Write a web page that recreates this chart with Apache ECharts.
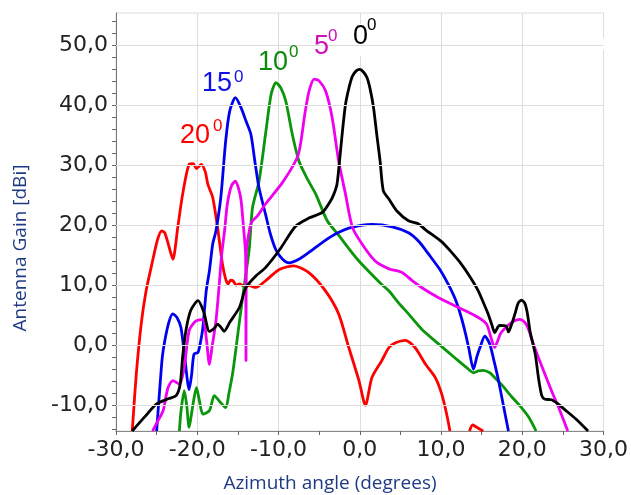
<!DOCTYPE html>
<html><head><meta charset="utf-8">
<script src="https://cdn.jsdelivr.net/npm/echarts@6/dist/echarts.min.js"></script>
<style>html,body{margin:0;padding:0;background:#fff}#c{width:631px;height:495px}</style>
</head><body><div id="c"></div>
<script>
// ---- data (azimuth degrees, gain dBi) ----
const curve0 = [[-28.0,-14.3],[-26.5,-12.0],[-25.0,-9.8],[-23.5,-8.9],[-22.6,-8.4],[-22.1,-6.5],[-21.8,-2.0],[-21.4,2.4],[-20.8,5.8],[-19.9,7.4],[-19.2,5.5],[-18.5,2.3],[-17.9,2.8],[-17.5,3.5],[-17.1,3.0],[-16.7,2.3],[-16.0,3.8],[-14.8,6.3],[-14.0,9.6],[-12.8,11.5],[-11.6,12.9],[-9.8,16.0],[-7.9,19.8],[-6.2,21.2],[-4.6,22.1],[-3.6,24.0],[-3.2,25.1],[-2.8,26.8],[-2.5,30.5],[-2.1,36.0],[-1.75,40.1],[-1.3,43.0],[-0.9,44.8],[-0.4,45.7],[0.0,45.9],[0.5,45.4],[0.9,44.5],[1.3,42.5],[1.7,39.5],[2.1,35.0],[2.5,30.7],[2.9,25.7],[3.6,24.3],[4.6,22.3],[6.0,20.7],[7.2,20.2],[8.1,19.2],[10.1,17.2],[11.2,15.6],[12.5,13.5],[13.6,11.3],[14.6,9.0],[15.3,6.8],[15.8,5.2],[16.3,3.2],[16.6,2.1],[17.0,3.0],[17.2,3.3],[18.0,3.2],[18.3,2.2],[18.7,3.5],[19.1,5.2],[19.5,7.0],[19.9,7.5],[20.3,7.0],[20.6,5.5],[21.0,2.0],[21.6,-1.5],[22.0,-5.5],[22.4,-8.4],[22.8,-9.0],[23.6,-9.1],[24.4,-9.8],[25.2,-10.7],[26.6,-12.3],[28.1,-14.3]];
const curve5 = [[-25.5,-14.3],[-24.8,-12.5],[-24.2,-10.9],[-23.6,-7.1],[-23.0,-5.9],[-22.2,-6.5],[-21.6,-3.7],[-21.0,2.4],[-20.2,4.0],[-19.3,4.3],[-18.9,1.3],[-18.5,-3.2],[-18.2,-0.5],[-17.7,4.0],[-17.3,10.0],[-17.0,15.0],[-16.6,19.5],[-16.3,23.5],[-15.8,26.5],[-15.3,27.3],[-14.9,26.0],[-14.6,24.0],[-14.3,19.5],[-14.05,15.0],[-14.0,-2.6],[-13.95,15.5],[-13.5,19.7],[-13.2,20.7],[-12.6,21.5],[-11.6,23.5],[-9.5,27.1],[-7.7,31.2],[-7.3,33.4],[-6.7,39.0],[-6.2,42.5],[-5.6,44.3],[-5.0,44.0],[-4.2,42.3],[-3.4,37.9],[-2.6,30.7],[-1.75,25.1],[-0.9,19.6],[0.3,16.8],[1.9,14.0],[3.6,12.7],[5.2,12.1],[6.4,10.8],[7.6,9.6],[9.7,7.9],[12.1,6.3],[14.6,4.6],[15.6,3.5],[16.1,1.5],[16.6,-0.4],[17.0,0.8],[17.4,2.1],[18.7,3.8],[19.7,4.3],[20.3,3.8],[20.7,2.9],[21.3,0.5],[22.0,-2.1],[23.6,-7.6],[24.6,-10.8],[25.6,-14.3]];
const curve10 = [[-22.2,-14.3],[-22.0,-11.0],[-21.6,-7.6],[-21.3,-10.0],[-21.0,-13.7],[-20.6,-10.5],[-20.1,-7.1],[-19.7,-9.5],[-19.3,-11.5],[-18.5,-10.9],[-17.9,-8.4],[-17.3,-9.3],[-16.5,-10.4],[-16.1,-8.0],[-15.6,-4.3],[-14.8,4.0],[-14.2,10.1],[-13.6,16.0],[-13.2,22.9],[-12.4,27.3],[-11.6,35.1],[-10.9,41.8],[-10.3,43.7],[-9.7,42.8],[-9.1,40.6],[-8.3,35.1],[-7.5,30.7],[-6.5,27.8],[-5.4,25.1],[-4.0,20.7],[-2.6,18.3],[-1.3,16.0],[-0.1,14.0],[1.3,12.0],[2.7,10.1],[3.6,9.0],[4.8,7.0],[6.0,5.2],[7.6,2.7],[9.7,0.2],[11.7,-2.1],[13.2,-3.8],[14.0,-4.6],[14.6,-4.3],[15.2,-4.2],[16.0,-4.6],[16.6,-5.4],[17.4,-6.5],[18.7,-8.6],[19.9,-10.4],[20.9,-12.2],[21.7,-14.3]];
const curve15 = [[-25.0,-14.3],[-24.6,-7.0],[-24.3,-2.0],[-24.0,0.7],[-23.5,3.8],[-23.0,5.2],[-22.5,4.6],[-22.0,2.9],[-21.5,-2.5],[-21.0,-7.4],[-20.7,-5.0],[-20.4,-1.5],[-19.9,-1.2],[-19.6,0.5],[-19.3,3.0],[-18.9,9.0],[-18.5,12.4],[-18.1,16.8],[-17.7,19.0],[-17.1,24.6],[-16.5,34.0],[-16.0,39.0],[-15.3,41.2],[-14.6,39.5],[-14.0,37.3],[-13.4,35.1],[-12.9,30.5],[-12.4,26.2],[-11.6,21.8],[-11.0,18.5],[-10.3,15.8],[-9.5,14.3],[-8.7,13.7],[-7.5,14.3],[-6.3,15.4],[-4.5,17.2],[-3.0,18.5],[-1.0,19.6],[1.5,20.1],[4.0,19.7],[6.0,18.7],[7.3,17.2],[8.5,15.1],[9.8,12.7],[10.9,10.1],[11.8,7.5],[12.5,4.6],[13.0,2.0],[13.4,-0.4],[14.0,-4.0],[14.4,-2.0],[14.8,-0.4],[15.4,1.5],[16.0,0.2],[16.5,-2.5],[17.0,-5.4],[17.6,-9.5],[18.3,-14.3]];
const curve20 = [[-28.0,-14.3],[-27.5,-4.8],[-26.9,3.5],[-26.3,9.0],[-25.5,14.0],[-24.9,17.5],[-24.4,19.0],[-24.0,18.7],[-23.5,16.5],[-23.0,14.3],[-22.4,19.6],[-21.8,25.1],[-21.0,30.1],[-20.5,30.2],[-20.1,29.4],[-19.5,30.1],[-19.0,28.8],[-18.7,26.8],[-18.1,24.6],[-17.5,19.6],[-16.9,13.5],[-16.5,11.0],[-16.2,10.2],[-15.9,10.8],[-15.6,10.7],[-15.2,10.0],[-14.8,10.2],[-14.2,9.8],[-13.6,9.9],[-12.8,9.6],[-11.6,10.7],[-9.9,12.6],[-8.1,13.2],[-6.3,12.1],[-4.2,9.0],[-2.6,5.2],[-1.35,-0.4],[-0.1,-5.9],[0.7,-10.0],[1.5,-5.4],[2.7,-2.6],[3.6,-0.4],[4.4,0.4],[5.6,0.8],[6.8,-0.4],[8.1,-3.2],[9.3,-5.4],[10.1,-8.2],[10.7,-11.5],[11.1,-14.3]];
const curve20b = [[13.5,-14.3],[13.9,-13.3],[14.3,-13.6],[14.8,-14.0],[15.2,-14.3]];

const yLabelValues = [-10, 0, 10, 20, 30, 40, 50];
const yTickValues = [-14,-12,-10,-8,-6,-4,-2,0,2,4,6,8,10,12,14,16,18,20,22,24,26,28,30,32,34,36,38,40,42,44,46,48,50,52,54];
const curveLabels = ['20', '15', '10', '5', '0'];

const fmt = v => v.toFixed(1).replace('.', ',');
const tickFont = {fontFamily: 'DejaVu Sans', fontSize: 22, color: '#222'};
const titleColor = '#1F3A84';

function lineSeries(name, data, color) {
  return {name, type: 'line', data, showSymbol: false, symbol: 'none', smooth: 0.25,
    lineStyle: {color, width: 2.8}, z: 3, silent: true};
}

const labelStyle = [
  // [text, left, centerY, color, supLeft, supCenterY]
  [curveLabels[0], 180, 136, '#FF0000', 213, 126],
  [curveLabels[1], 202, 84, '#1010E8', 234, 77],
  [curveLabels[2], 258, 62.5, '#0A8A0A', 289, 52],
  [curveLabels[3], 314, 46.5, '#D010B8', 328, 36],
  [curveLabels[4], 353, 36.5, '#000000', 367, 25]
];
const graphics = [
  {type: 'rect', shape: {x: 311, y: 24, width: 112, height: 32}, style: {fill: '#fff'}, z: 1},
  {type: 'rect', shape: {x: 590, y: 38, width: 14, height: 12}, style: {fill: '#fff'}, z: 1},
  {type: 'text', rotation: Math.PI / 2, x: 21, y: 248,
    style: {text: 'Antenna Gain [dBi]', fill: titleColor, fontFamily: 'Open Sans', fontSize: 19, align: 'center', verticalAlign: 'middle'}},
  {type: 'text', x: 330, y: 484,
    style: {text: 'Azimuth angle (degrees)', fill: titleColor, fontFamily: 'Open Sans', fontSize: 19, align: 'center', verticalAlign: 'middle'}}
];
labelStyle.forEach(l => {
  graphics.push({type: 'text', x: l[1], y: l[2], z: 10,
    style: {text: l[0], fill: l[3], fontFamily: 'Liberation Sans', fontSize: 27, align: 'left', verticalAlign: 'middle'}});
  graphics.push({type: 'text', x: l[4], y: l[5], z: 10,
    style: {text: '0', fill: l[3], fontFamily: 'Liberation Sans', fontSize: 17, align: 'left', verticalAlign: 'middle'}});
});

const chart = echarts.init(document.getElementById('c'), null, {renderer: 'canvas'});
chart.setOption({
  animation: false,
  backgroundColor: '#fff',
  grid: {left: 116, right: 25, top: 13, bottom: 64, show: true, borderColor: '#DDDDDD', borderWidth: 1},
  xAxis: {
    type: 'value', min: -30, max: 30, interval: 10,
    axisLine: {show: true, onZero: false, lineStyle: {color: '#888', width: 1}},
    axisTick: {show: true, length: 4, lineStyle: {color: '#666'}},
    minorTick: {show: true, splitNumber: 2, length: 4, lineStyle: {color: '#666'}},
    axisLabel: Object.assign({margin: 8, formatter: fmt}, tickFont),
    splitLine: {show: true, lineStyle: {color: '#DDDDDD', width: 1}}
  },
  yAxis: {
    type: 'value', min: -14.3, max: 55.3,
    axisLine: {show: true, onZero: false, lineStyle: {color: '#777', width: 1}},
    axisTick: {show: true, length: 4, customValues: yTickValues, lineStyle: {color: '#666'}},
    axisLabel: Object.assign({margin: 8, formatter: fmt, customValues: yLabelValues}, tickFont),
    splitLine: {show: false}
  },
  graphic: graphics,
  series: [
    {type: 'line', data: [], z: 1, silent: true,
      markLine: {silent: true, symbol: 'none', animation: false, label: {show: false},
        lineStyle: {color: '#DDDDDD', width: 1, type: 'solid'},
        data: yLabelValues.map(v => ({yAxis: v}))}},
    lineSeries('20', curve20, '#FF0000'),
    lineSeries('20b', curve20b, '#FF0000'),
    lineSeries('10', curve10, '#0A960A'),
    lineSeries('15', curve15, '#0000F0'),
    lineSeries('5', curve5, '#F000F0'),
    lineSeries('0', curve0, '#000000')
  ]
});
</script></body></html>
